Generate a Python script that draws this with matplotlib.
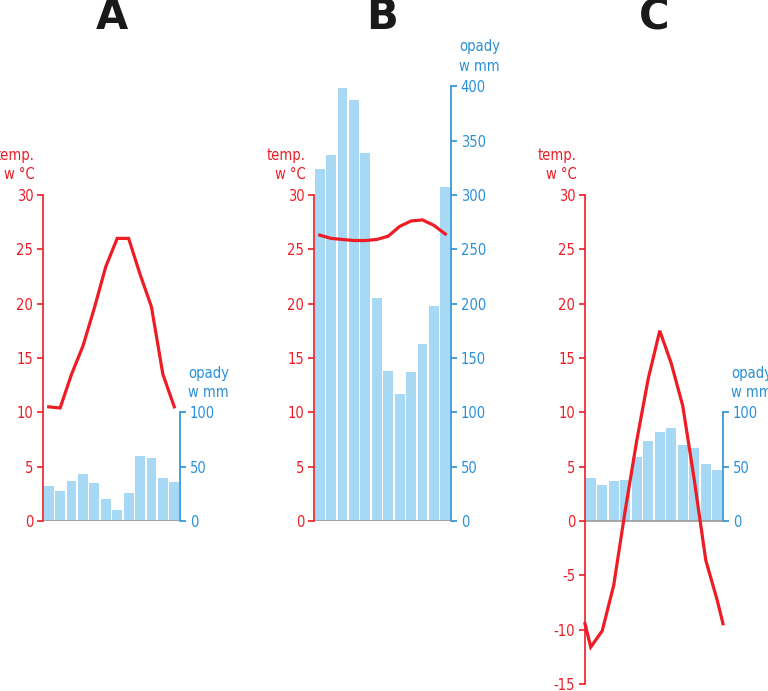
import numpy as np
import matplotlib
matplotlib.use("Agg")
import matplotlib.pyplot as plt
from matplotlib import font_manager

# narrow font if we have one
installed = {f.name for f in font_manager.fontManager.ttflist}
narrow = [f for f in ['Liberation Sans Narrow', 'DejaVu Sans Condensed'] if f in installed]
plt.rcParams['font.family'] = narrow + ['DejaVu Sans']
plt.rcParams['font.stretch'] = 'condensed'
plt.rcParams['axes.unicode_minus'] = False

RED = '#ee1c25'
BLUE = '#2a90d8'
BAR = '#a7d8f4'
GRAY = '#333333'

months = ['I', 'II', 'III', 'IV', 'V', 'VI', 'VII', 'VIII', 'IX', 'X', 'XI', 'XII']
month_ticks = ['I', 'III', 'VI', 'IX', 'XII']

# panel A
temp_a = [10.5, 10.4, 13.5, 16.1, 19.6, 23.4, 26.0, 26.0, 22.7, 19.7, 13.5, 10.5]
rain_a = [32, 28, 37, 43, 35, 20, 10, 26, 60, 58, 40, 36]
# panel B
temp_b = [26.3, 26.0, 25.9, 25.8, 25.8, 25.9, 26.2, 27.1, 27.6, 27.7, 27.2, 26.4]
rain_b = [324, 337, 398, 387, 339, 205, 138, 117, 137, 163, 198, 307]
# panel C
temp_c = [-11.6, -10.1, -5.9, 1.0, 7.4, 13.1, 17.5, 14.5, 10.6, 3.8, -3.6, -7.3]
rain_c = [40, 33, 37, 38, 59, 74, 82, 86, 70, 67, 52, 47]

W, H = 768, 691
PX = 10.87  # pixels per degree
ZERO_Y = 521
FS = 10.5


def panel(fig, left, right, letter, temps, rains, t_lim, t_ticks, r_ticks, wrap=False):
    tmin, tmax = t_lim
    bottom_px = ZERO_Y + (-tmin) * PX
    top_px = ZERO_Y - tmax * PX
    ax = fig.add_axes([left / W, 1 - bottom_px / H, (right - left) / W, (bottom_px - top_px) / H])
    rx = ax.twinx()
    ax.set_zorder(rx.get_zorder() + 1)
    ax.patch.set_visible(False)

    x = np.arange(12) + 0.5
    rx.bar(x, rains, width=0.86, color=BAR, zorder=2)
    rx.set_ylim(tmin * 10, tmax * 10)
    ax.set_ylim(tmin, tmax)
    ax.set_xlim(0, 12)
    ax.axhline(0, color='#9a9a9a', lw=1.2, zorder=1)

    if wrap:
        edge = (temps[0] + temps[-1]) / 2
        lx = np.concatenate([[0], x, [12]])
        ly = np.concatenate([[edge], temps, [edge]])
    else:
        lx, ly = x, temps
    ax.plot(lx, ly, color=RED, lw=2.3, solid_joinstyle='miter', clip_on=False, zorder=5)

    for a in (ax, rx):
        for s in ('top', 'bottom'):
            a.spines[s].set_visible(False)
    ax.spines['right'].set_visible(False)
    rx.spines['left'].set_visible(False)

    ax.spines['left'].set_color(RED)
    ax.spines['left'].set_linewidth(1.2)
    ax.spines['left'].set_bounds(t_ticks[0], t_ticks[-1])
    ax.set_yticks(t_ticks)
    ax.tick_params(axis='y', colors=RED, labelcolor=RED, length=4, width=1.2, pad=3, labelsize=FS)

    rx.spines['right'].set_color(BLUE)
    rx.spines['right'].set_linewidth(1.2)
    rx.spines['right'].set_bounds(r_ticks[0], r_ticks[-1])
    rx.set_yticks(r_ticks)
    rx.tick_params(axis='y', colors=BLUE, labelcolor=BLUE, length=4, width=1.2, pad=3, labelsize=FS)

    ax.set_xticks([months.index(m) + 0.5 for m in month_ticks])
    ax.set_xticklabels(month_ticks)
    ax.tick_params(axis='x', length=0, pad=3, labelsize=FS, labelcolor=GRAY)
    rx.set_xticks([])

    ax.annotate('temp.\nw °C', xy=(0, t_ticks[-1]), xycoords=('axes fraction', 'data'),
                xytext=(-6, 9), textcoords='offset points', ha='right', va='bottom',
                multialignment='right', color=RED, fontsize=FS, linespacing=1.35)
    rx.annotate('opady\nw mm', xy=(1, r_ticks[-1]), xycoords=('axes fraction', 'data'),
                xytext=(6, 9), textcoords='offset points', ha='left', va='bottom',
                multialignment='left', color=BLUE, fontsize=FS, linespacing=1.35)

    fig.text((left + right) / 2 / W, 1 - 17 / H, letter, ha='center', va='center',
             fontsize=30, fontweight='bold', family='DejaVu Sans', stretch='normal',
             color='#1a1a1a')


fig = plt.figure(figsize=(W / 100, H / 100), dpi=100)

panel(fig, 43, 180, 'A', temp_a, rain_a, (0, 30), list(range(0, 31, 5)), list(range(0, 101, 50)))
panel(fig, 314, 451, 'B', temp_b, rain_b, (0, 40), list(range(0, 31, 5)), list(range(0, 401, 50)))
panel(fig, 585, 723, 'C', temp_c, rain_c, (-15, 30), list(range(-15, 31, 5)), list(range(0, 101, 50)),
      wrap=True)

fig.savefig('out.png', dpi=100, facecolor='white')
